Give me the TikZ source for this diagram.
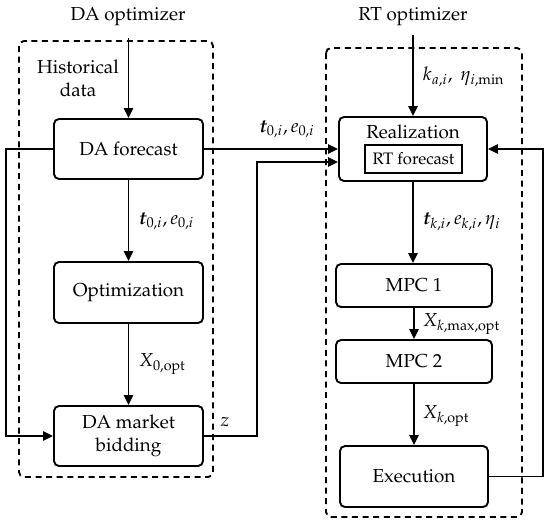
\documentclass[tikz,border=0pt]{standalone}
\usepackage[T1]{fontenc}
\usepackage{mathpazo}
\usepackage{bm}
\usetikzlibrary{arrows.meta,calc}
\begin{document}
\begin{tikzpicture}[x=0.5pt,y=-0.5pt,
  font=\fontsize{9.4}{11.5}\selectfont, line width=0.95pt,
  box/.style={draw, rounded corners=2.5pt, inner sep=0pt, align=center},
  frame/.style={draw, dash pattern=on 3pt off 2.3pt, rounded corners=2.5pt},
  arr/.style={-{Triangle[length=5pt,width=4.6pt]}},
  lbl/.style={inner sep=1pt, anchor=west},
  txt/.style={inner sep=0pt, align=center}]
\useasboundingbox (0,0) rectangle (550,525);

% dashed frames
\draw[frame] (19,41) rectangle (213,477);
\draw[frame] (326,48) rectangle (522,517);

% titles
\node[txt] (daopt) at (128,17) {DA optimizer};
\node[txt] (rtopt) at (413,17) {RT optimizer};
\node[txt] (hist) at (78,78) {Historical\\data};
\coordinate (daIn) at (128.5,38);
\coordinate (rtIn) at (413,35);

% left blocks
\node[box, minimum width=74.5pt, minimum height=30pt] (daf) at (128.5,149) {DA forecast};
\node[box, minimum width=74.5pt, minimum height=30.5pt] (opt) at (128.5,292.5) {Optimization};
\node[box, minimum width=74.5pt, minimum height=30pt] (dab) at (128.5,436) {DA market\\bidding};

% right blocks
\node[box, minimum width=74pt, minimum height=32pt] (real) at (413,149) {};
\node[txt] (realt) at (413,132) {Realization};
\node[draw, line width=0.7pt, inner sep=0pt, minimum width=48.5pt, minimum height=14pt,
      font=\fontsize{8.3}{10}\selectfont] (rtf) at (413.5,159) {RT forecast};
\node[box, minimum width=78pt, minimum height=21.5pt] (mpc1) at (414,285.5) {MPC 1};
\node[box, minimum width=78pt, minimum height=21.5pt] (mpc2) at (414,361.5) {MPC 2};
\node[box, minimum width=74pt, minimum height=30.5pt] (exe) at (414,476.5) {Execution};

% connectors left
\draw[arr] (daIn) -- (daf.north);
\draw[arr] (daf.south) -- (opt.north);
\draw[arr] (opt.south) -- (dab.north);
\draw[arr] (daf.west) -- (6,149) -- (6,436) -- (dab.west);
\draw[arr] (daf.east) -- (daf.east -| real.west);
\coordinate (zc) at (257,162);
\draw[arr] (dab.east) -- (dab.east -| zc) -- (zc) -- (zc -| real.west);

% connectors right
\draw[arr] (rtIn) -- (real.north);
\draw[arr] (real.south) -- (real.south |- mpc1.north);
\draw[arr] (mpc1.south) -- (mpc2.north);
\draw[arr] (mpc2.south) -- (mpc2.south |- exe.north);
\coordinate (fb) at (543,149);
\draw[arr] (exe.east) -- (exe.east -| fb) -- (fb) -- (real.east);

% labels
\node[txt] (l1) at (287,129) {$\bm{t}_{0,i}, e_{0,i}$};
\node[lbl] (l2) at (136,221) {$\bm{t}_{0,i}, e_{0,i}$};
\node[lbl] (l3) at (136,364) {$X_{0,\mathrm{opt}}$};
\node[txt] (l4) at (225,422) {$z$};
\node[lbl] (l5) at (420,77) {$k_{a,i},\ \eta_{i,\mathrm{min}}$};
\node[lbl] (l6) at (420,222) {$\bm{t}_{k,i}, e_{k,i}, \eta_i$};
\node[lbl] (l7) at (420,324) {$X_{k,\mathrm{max},\mathrm{opt}}$};
\node[lbl] (l8) at (420,416) {$X_{k,\mathrm{opt}}$};
\end{tikzpicture}
\end{document}
